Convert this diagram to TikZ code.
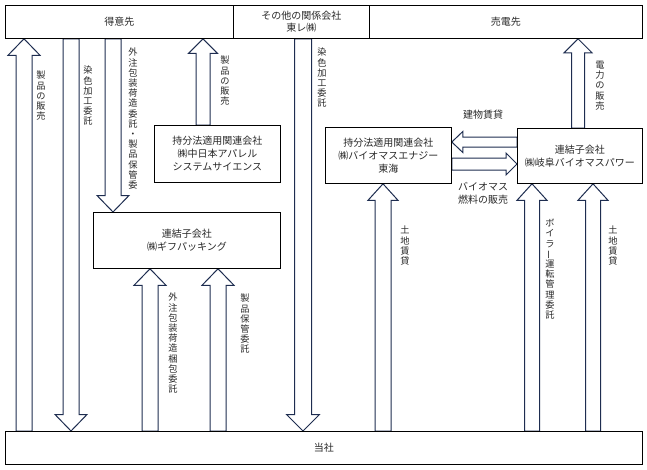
\documentclass[tikz,border=0pt]{standalone}
\usepackage{fontspec}
\usepackage{graphicx}
\setmainfont{Noto Sans CJK JP}
\usetikzlibrary{calc}
\definecolor{arr}{RGB}{30,45,80}
\definecolor{txt}{RGB}{40,40,40}
\newcommand\hfnt{\fontsize{10}{13}\selectfont}
\newcommand\vfnt{\fontsize{9.2}{10.2}\selectfont}
\newcommand\vbar{\rotatebox[origin=c]{90}{ー}}
% up arrow: x, from, to, half shaft, half head, head length
\newcommand\uparr[6]{%
\draw[blk] let \p1=(#2), \p2=(#3) in
 ({(#1-#4)*1pt},\y1) -- ({(#1-#4)*1pt},{\y2-#6pt}) -- ({(#1-#5)*1pt},{\y2-#6pt}) -- ({#1*1pt},\y2)
 -- ({(#1+#5)*1pt},{\y2-#6pt}) -- ({(#1+#4)*1pt},{\y2-#6pt}) -- ({(#1+#4)*1pt},\y1) -- cycle;}
% down arrow
\newcommand\dnarr[6]{%
\draw[blk] let \p1=(#2), \p2=(#3) in
 ({(#1-#4)*1pt},\y1) -- ({(#1-#4)*1pt},{\y2+#6pt}) -- ({(#1-#5)*1pt},{\y2+#6pt}) -- ({#1*1pt},\y2)
 -- ({(#1+#5)*1pt},{\y2+#6pt}) -- ({(#1+#4)*1pt},{\y2+#6pt}) -- ({(#1+#4)*1pt},\y1) -- cycle;}
% left arrow: y, from, to, half shaft, half head, head length
\newcommand\lfarr[6]{%
\draw[blk] let \p1=(#2), \p2=(#3) in
 (\x1,{(-#1+#4)*1pt}) -- ({\x2+#6pt},{(-#1+#4)*1pt}) -- ({\x2+#6pt},{(-#1+#5)*1pt}) -- (\x2,{-#1*1pt})
 -- ({\x2+#6pt},{(-#1-#5)*1pt}) -- ({\x2+#6pt},{(-#1-#4)*1pt}) -- (\x1,{(-#1-#4)*1pt}) -- cycle;}
\newcommand\rtarr[6]{%
\draw[blk] let \p1=(#2), \p2=(#3) in
 (\x1,{(-#1+#4)*1pt}) -- ({\x2-#6pt},{(-#1+#4)*1pt}) -- ({\x2-#6pt},{(-#1+#5)*1pt}) -- (\x2,{-#1*1pt})
 -- ({\x2-#6pt},{(-#1-#5)*1pt}) -- ({\x2-#6pt},{(-#1-#4)*1pt}) -- (\x1,{(-#1-#4)*1pt}) -- cycle;}
\begin{document}
\begin{tikzpicture}[x=1pt,y=-1pt,
  box/.style={draw=black, line width=0.8pt, anchor=north west, inner sep=0pt,
    align=center, font=\hfnt, text=txt, fill=white},
  blk/.style={draw=arr, line width=1pt, fill=white, line join=miter},
  vlab/.style={anchor=north, inner sep=0pt, align=center, font=\vfnt, text=txt},
  hlab/.style={inner sep=0pt, align=center, font=\hfnt, text=txt}]
\useasboundingbox (0,0) rectangle (647,469);
% boxes
\node[box, minimum width=228pt, minimum height=33pt] (tokui) at (5,5) {得意先};
\node[box, minimum width=136pt, minimum height=33pt, font=\fontsize{10}{12}\selectfont] (sonota) at (233,5) {その他の関係会社\\東レ㈱};
\node[box, minimum width=273pt, minimum height=33pt] (baiden) at (369,5) {売電先};
\node[box, minimum width=637pt, minimum height=33pt] (toh) at (5,431) {当社};
\node[box, minimum width=126pt, minimum height=57pt] (chubu) at (154,125) {持分法適用関連会社\\㈱中日本アパレル\\システムサイエンス};
\node[box, minimum width=187pt, minimum height=56pt] (gifu) at (93,212) {連結子会社\\㈱ギフパッキング};
\node[box, minimum width=126pt, minimum height=56pt] (energy) at (325,127) {持分法適用関連会社\\㈱バイオマスエナジー\\東海};
\node[box, minimum width=125pt, minimum height=55pt] (gifubio) at (517,128) {連結子会社\\㈱岐阜バイオマスパワー};
% arrows
\uparr{24}{toh.north}{tokui.south}{8}{16}{16.5}
\dnarr{71}{tokui.south}{toh.north}{8}{16}{16.5}
\dnarr{113}{tokui.south}{gifu.north}{8}{16}{16.5}
\uparr{203}{chubu.north}{tokui.south}{7}{14.5}{14.5}
\dnarr{303}{sonota.south}{toh.north}{8.5}{16.5}{16.5}
\uparr{150}{toh.north}{gifu.south}{8}{16}{16.5}
\uparr{218}{toh.north}{gifu.south}{8}{16}{16.5}
\uparr{383}{toh.north}{energy.south}{8}{15}{16.5}
\uparr{532}{toh.north}{gifubio.south}{7.5}{15}{16.5}
\uparr{593}{toh.north}{gifubio.south}{7.5}{15}{16.5}
\uparr{578}{gifubio.north}{baiden.south}{6.5}{14}{14}
\lfarr{142}{gifubio.west}{energy.east}{5}{10.5}{11}
\rtarr{164}{energy.east}{gifubio.west}{6}{11}{11}
% redraw box borders on top
\foreach \n in {tokui,sonota,baiden,toh,gifu,gifubio,energy,chubu}
  \draw[line width=0.8pt] (\n.north west) rectangle (\n.south east);
% labels
\node[vlab] (l1) at (41,71) {製\\品\\の\\販\\売};
\node[vlab] (l2) at (88,66) {染\\色\\加\\工\\委\\託};
\node[vlab] (l3) at (133,48) {外\\注\\包\\装\\荷\\造\\委\\託\\・\\製\\品\\保\\管\\委};
\node[vlab] (l4) at (225,56) {製\\品\\の\\販\\売};
\node[vlab] (l5) at (322,48) {染\\色\\加\\工\\委\\託};
\node[vlab] (l6) at (173,293) {外\\注\\包\\装\\荷\\造\\梱\\包\\委\\託};
\node[vlab] (l7) at (245,294) {製\\品\\保\\管\\委\\託};
\node[vlab] (l8) at (405,226) {土\\地\\賃\\貸};
\node[vlab] (l9) at (550,219) {ボ\\イ\\ラ\\\vbar\\運\\転\\管\\理\\委\\託};
\node[vlab] (l10) at (613,226) {土\\地\\賃\\貸};
\node[vlab] (l11) at (600,61) {電\\力\\の\\販\\売};
\node[hlab] (l12) at (483,115) {建物賃貸};
\node[hlab] (l13) at (483,193) {バイオマス\\燃料の販売};
\end{tikzpicture}
\end{document}
